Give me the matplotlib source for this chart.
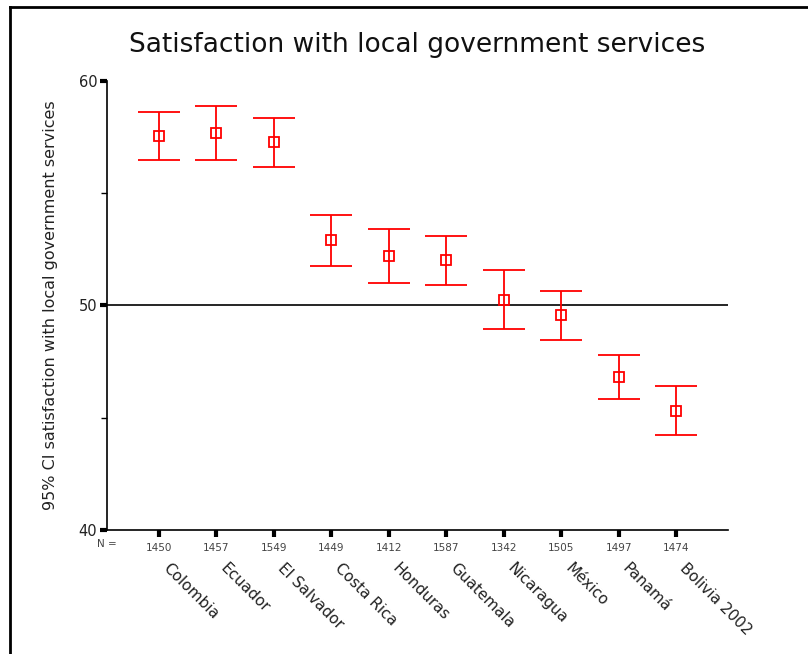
import matplotlib
matplotlib.use("Agg")
import matplotlib.pyplot as plt
from matplotlib.lines import Line2D
import numpy as np

FIGSIZE = (8.08, 6.54)
RED = "#ff0000"

countries = ["Colombia", "Ecuador", "El Salvador", "Costa Rica", "Honduras",
             "Guatemala", "Nicaragua", "México", "Panamá", "Bolivia 2002"]
n_values = [1450, 1457, 1549, 1449, 1412, 1587, 1342, 1505, 1497, 1474]
means = [57.56, 57.67, 57.26, 52.89, 52.18, 52.00, 50.25, 49.56, 46.80, 45.29]
upper = [58.62, 58.86, 58.33, 54.01, 53.38, 53.07, 51.57, 50.62, 47.81, 46.43]
lower = [56.49, 56.49, 56.18, 51.75, 50.98, 50.90, 48.95, 48.46, 45.82, 44.22]


def draw_chart() -> None:
    fig = plt.figure(figsize=FIGSIZE, dpi=100)
    ax = fig.add_axes([0.1324, 0.1896, 0.7686, 0.687])

    x = np.arange(1, len(countries) + 1)
    mean_arr = np.array(means)
    yerr = [mean_arr - np.array(lower), np.array(upper) - mean_arr]

    ax.axhline(50, color="black", lw=1.2, zorder=1)
    ax.errorbar(x, mean_arr, yerr=yerr, fmt="s", color=RED, ecolor=RED,
                elinewidth=1.3, capsize=14.8, capthick=1.3,
                markersize=6.5, mfc="none", mec=RED, mew=1.3, zorder=3)

    ax.set_xlim(0.1, 10.9)
    ax.set_ylim(40, 60)
    ax.set_yticks([40, 50, 60])
    ax.set_yticks([45, 55], minor=True)
    ax.tick_params(axis="y", which="major", length=5, width=3,
                   labelsize=10.5, pad=2, labelcolor="#222222")
    ax.tick_params(axis="y", which="minor", length=4, width=1)

    ax.set_xticks(x)
    ax.set_xticklabels([str(n) for n in n_values])
    ax.tick_params(axis="x", length=5, width=3, labelsize=7.5, pad=4,
                   labelcolor="#444444")

    for side in ("top", "right"):
        ax.spines[side].set_visible(False)
    for side in ("left", "bottom"):
        ax.spines[side].set_linewidth(1.2)

    ax.text(0.1, -0.031, "N =", transform=ax.get_xaxis_transform(),
            ha="center", va="center", fontsize=7.5, color="#444444")

    for xi, name in zip(x, countries):
        ax.text(xi + 0.2, -0.068, name, transform=ax.get_xaxis_transform(),
                rotation=-45, rotation_mode="anchor", ha="left", va="top",
                fontsize=11, color="#222222")

    ax.set_ylabel("95% CI satisfaction with local government services",
                  fontsize=11.5, color="#222222", labelpad=15)
    ax.set_title("Satisfaction with local government services",
                 fontsize=19, color="#111111", pad=21)

    # outer frame, only top and left edges visible
    fig.add_artist(Line2D([10 / 808, 1], [1 - 7 / 654, 1 - 7 / 654],
                          transform=fig.transFigure, color="black", lw=2))
    fig.add_artist(Line2D([10 / 808, 10 / 808], [0, 1 - 7 / 654],
                          transform=fig.transFigure, color="black", lw=2))

    fig.savefig("out.png", dpi=100)


if __name__ == "__main__":
    draw_chart()
